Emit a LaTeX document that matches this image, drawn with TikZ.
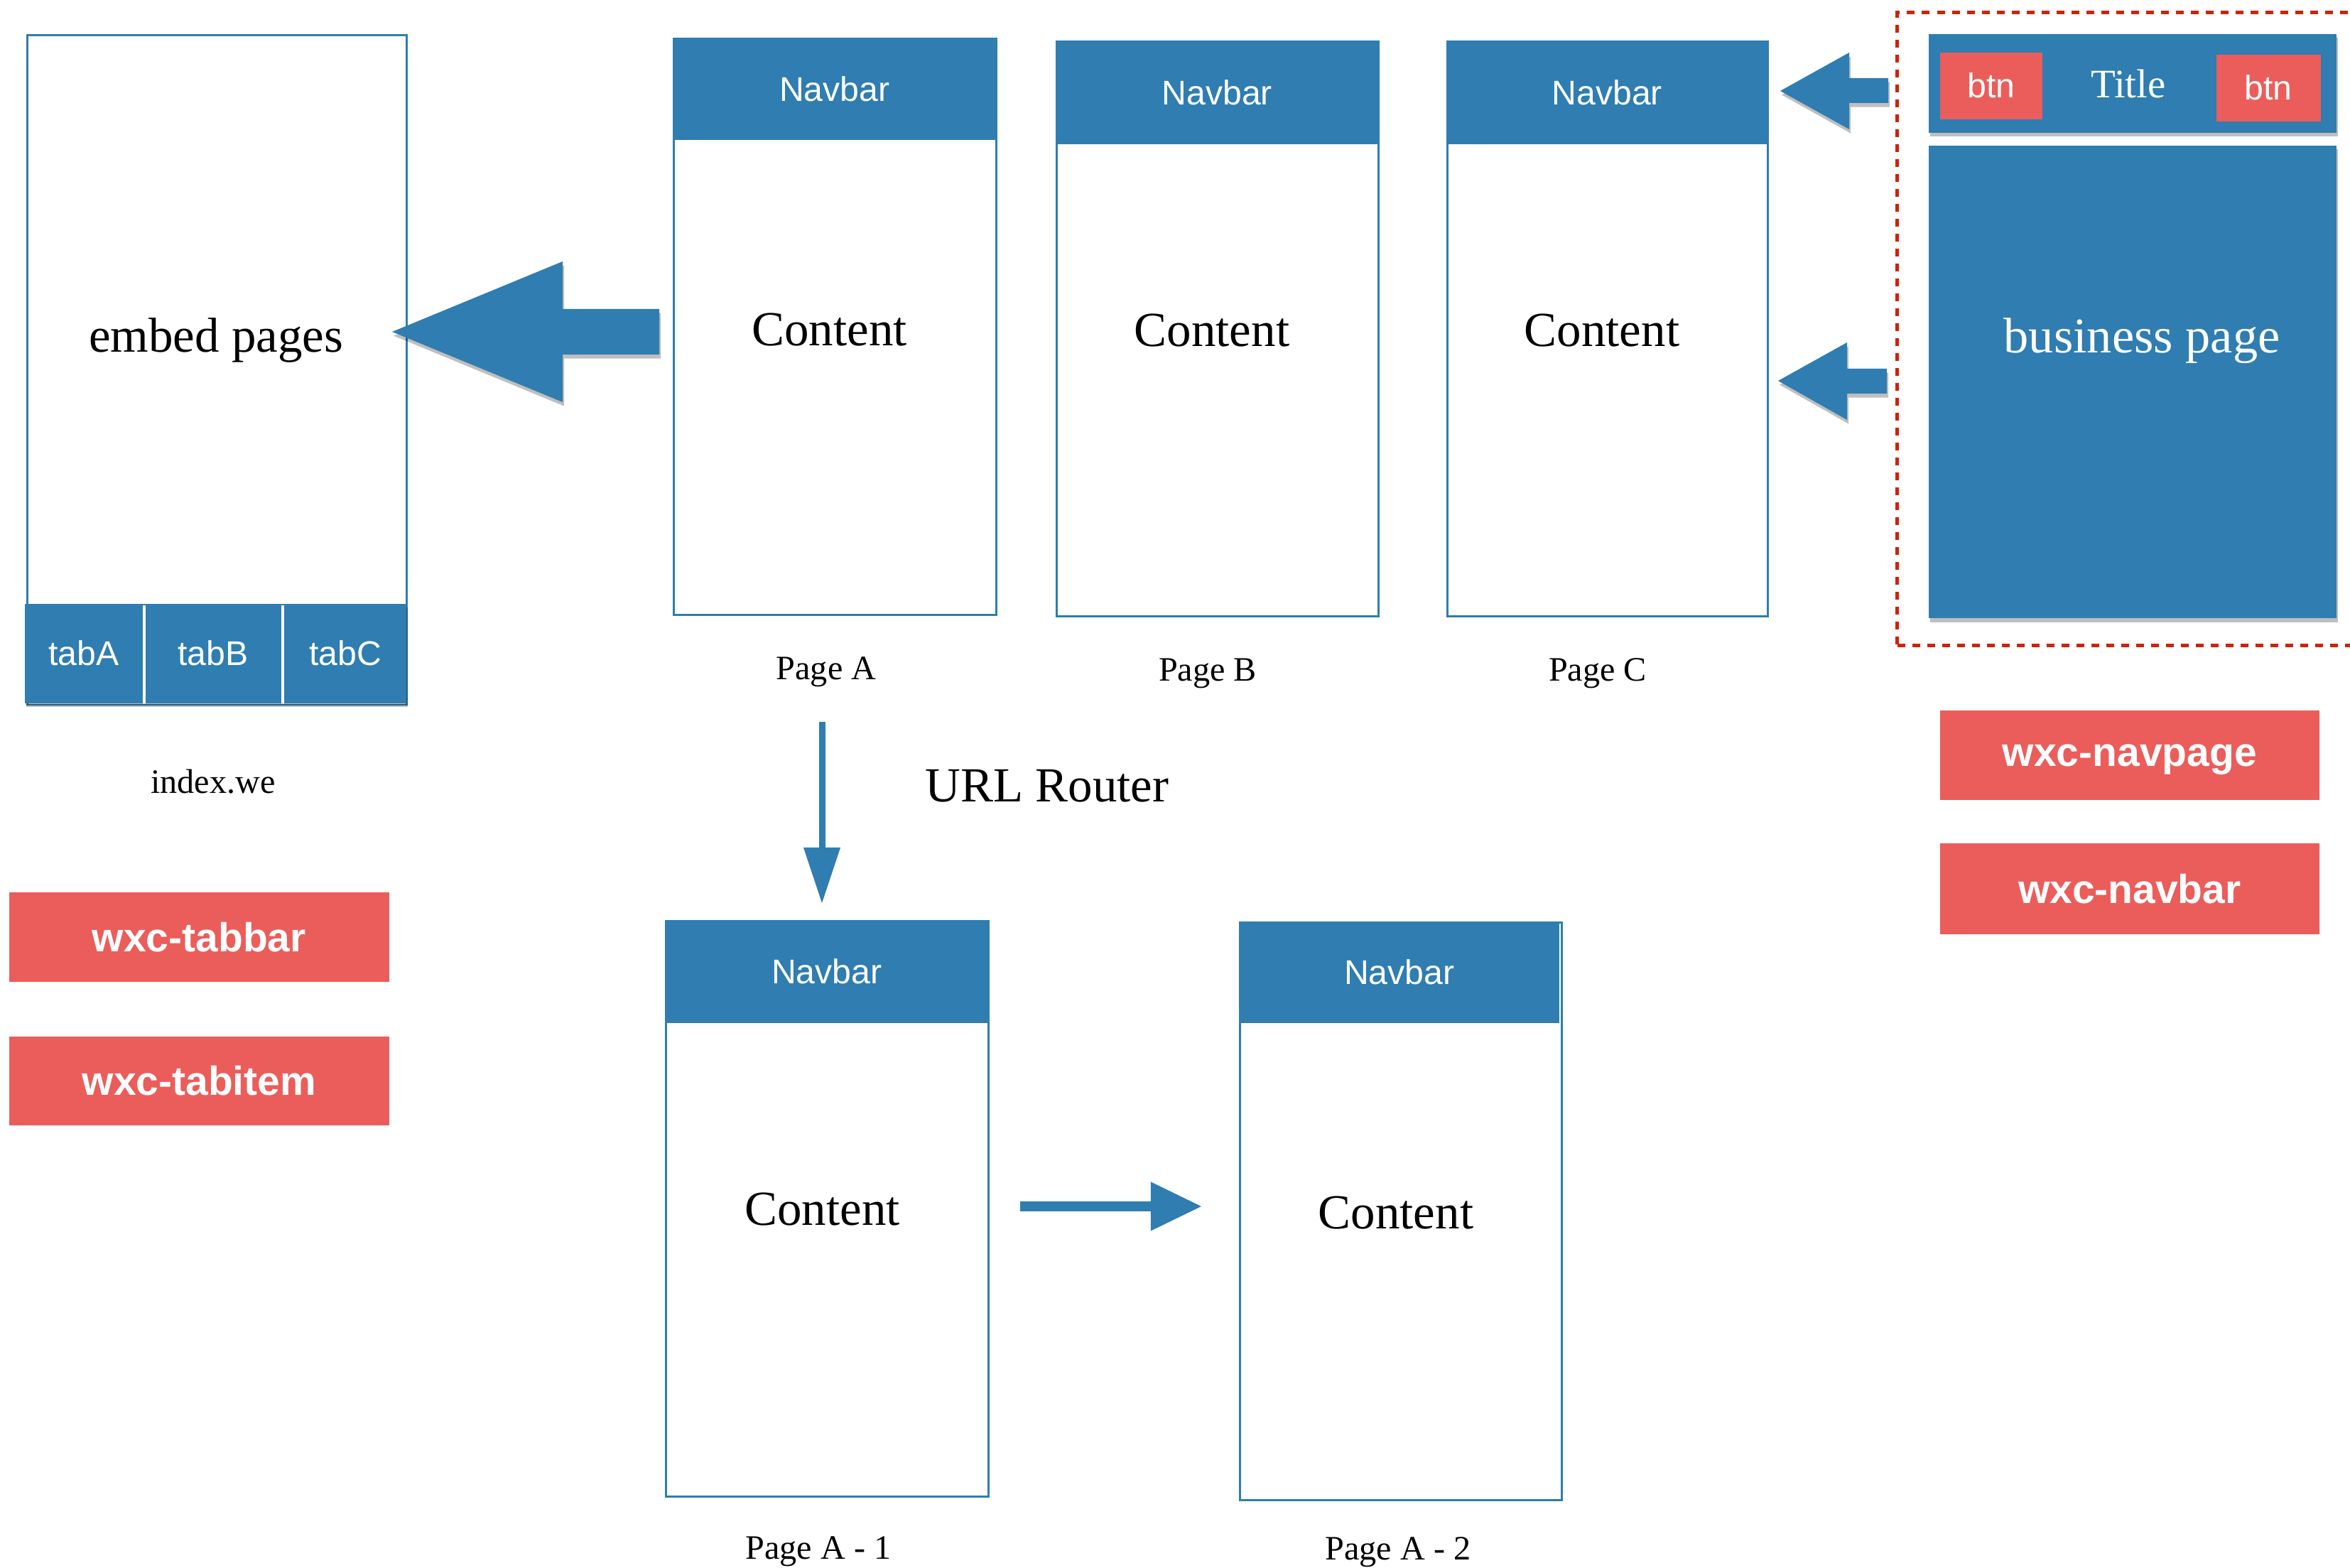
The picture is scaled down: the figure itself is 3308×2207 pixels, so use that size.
\documentclass[tikz,border=0pt]{standalone}
\usepackage{fontspec}
\setmainfont{Liberation Serif}
\newfontfamily\helv{Liberation Sans}
\usetikzlibrary{shadows,calc,arrows.meta}

\definecolor{bluec}{RGB}{47,125,177}
\definecolor{redc}{RGB}{235,93,90}
\definecolor{dashc}{RGB}{204,36,8}

\tikzset{
  softshadow/.style={drop shadow={shadow xshift=0.6pt,shadow yshift=-1.6pt,opacity=0.25,fill=black}},
  pagebox/.style={draw=bluec, line width=0.8pt, fill=white, inner sep=0pt, anchor=north west},
  bluefill/.style={fill=bluec, inner sep=0pt, anchor=north west},
  navtxt/.style={text=white, font=\helv\fontsize{13.7}{16}\selectfont},
  contenttxt/.style={text=black, text depth=0pt, font=\fontsize{19.6}{23}\selectfont},
  lbl/.style={text=black, text depth=0pt, font=\fontsize{13.7}{16}\selectfont},
  redbox/.style={fill=redc, inner sep=0pt, anchor=north west, text=white, text depth=0pt,
     font=\helv\bfseries\fontsize{16.2}{19}\selectfont},
  btnbox/.style={fill=redc, inner sep=0pt, anchor=north west, text=white,
     font=\helv\fontsize{13.7}{16}\selectfont},
  dashbox/.style={draw=dashc, line width=0.05cm, dash pattern=on 0.11cm off 0.10cm,
     inner sep=0pt, anchor=north west},
  fatarrow/.style={fill=bluec, softshadow},
  thinarrow/.style={draw=bluec},
}

\begin{document}
\begin{tikzpicture}[x=0.01cm,y=-0.01cm]
\useasboundingbox (0,0) rectangle (3308,2207);
\fill[white] (0,0) rectangle (3308,2207);
\clip (0,0) rectangle (3308,2207);

% ---------- index.we ----------
\node[pagebox, minimum width=5.34cm, minimum height=9.42cm] (idx) at (37,48) {};
\node[contenttxt] (idxt) at (304,472) {embed pages};
\node[bluefill, softshadow, minimum width=5.37cm, minimum height=1.40cm] (tabs) at (34,849) {};
\draw[white, line width=0.9pt] ($(tabs.north west)+(169,3)$) -- ($(tabs.south west)+(169,0)$)
                               ($(tabs.north west)+(364,3)$) -- ($(tabs.south west)+(364,0)$);
\node[navtxt] (tabA) at (118,919) {tabA};
\node[navtxt] (tabB) at (300,919) {tabB};
\node[navtxt] (tabC) at (486,919) {tabC};
\node[lbl] (idxl) at (300,1100) {index.we};

% ---------- red labels left ----------
\node[redbox, minimum width=5.35cm, minimum height=1.26cm] (rtabbar) at (12,1255) {wxc-tabbar};
\node[redbox, minimum width=5.35cm, minimum height=1.25cm] (rtabitem) at (12,1458) {wxc-tabitem};

% ---------- Page A ----------
\node[pagebox, minimum width=4.54cm, minimum height=8.11cm] (pA) at (947,53) {};
\node[bluefill, navtxt, minimum width=4.54cm, minimum height=1.43cm] (pAnav) at (947,53) {Navbar};
\node[contenttxt] (pAc) at ($(pA.north)+(-8,411)$) {Content};
\node[lbl] (pAl) at (1163,941) {Page A};

% ---------- Page B ----------
\node[pagebox, minimum width=4.53cm, minimum height=8.09cm] (pB) at (1486,57) {};
\node[bluefill, navtxt, minimum width=4.53cm, minimum height=1.45cm] (pBnav) at (1486,57) {Navbar};
\node[contenttxt] (pBc) at ($(pB.north)+(-8,408)$) {Content};
\node[lbl] (pBl) at (1700,943) {Page B};

% ---------- Page C ----------
\node[pagebox, minimum width=4.51cm, minimum height=8.09cm] (pC) at (2036,57) {};
\node[bluefill, navtxt, minimum width=4.51cm, minimum height=1.45cm] (pCnav) at (2036,57) {Navbar};
\node[contenttxt] (pCc) at ($(pC.north)+(-8,408)$) {Content};
\node[lbl] (pCl) at (2249,943) {Page C};

% ---------- Page A - 1 ----------
\node[pagebox, minimum width=4.54cm, minimum height=8.10cm] (pA1) at (936,1295) {};
\node[bluefill, navtxt, minimum width=4.54cm, minimum height=1.44cm] (pA1nav) at (936,1295) {Navbar};
\node[contenttxt] (pA1c) at ($(pA1.north)+(-7,407)$) {Content};
\node[lbl] (pA1l) at (1152,2179) {Page A - 1};

% ---------- Page A - 2 ----------
\node[pagebox, minimum width=4.53cm, minimum height=8.13cm] (pA2) at (1744,1297) {};
\node[bluefill, navtxt, minimum width=4.50cm, minimum height=1.42cm] (pA2nav) at (1744,1297) {Navbar};
\node[contenttxt] (pA2c) at ($(pA2.north)+(-7,410)$) {Content};
\node[lbl] (pA2l) at (1968,2180) {Page A - 2};

% ---------- URL Router ----------
\node[contenttxt] (url) at (1474,1106) {URL Router};

% ---------- business page (navpage) ----------
\node[dashbox, minimum width=6.70cm, minimum height=8.90cm] (navpage) at (2668,15) {};
\node[bluefill, softshadow, minimum width=5.74cm, minimum height=1.39cm] (bnav) at (2714,47) {};
\node[btnbox, minimum width=1.44cm, minimum height=0.94cm] (btnL) at (2730,73) {btn};
\node[btnbox, minimum width=1.47cm, minimum height=0.94cm] (btnR) at (3119,76) {btn};
\node[text=white, font=\fontsize{16.2}{19}\selectfont] (btitle) at (2996,118) {Title};
\node[bluefill, softshadow, minimum width=5.74cm, minimum height=6.65cm] (bpage) at (2714,204) {};
\node[text=white, text depth=0pt, font=\fontsize{20}{23}\selectfont] (bpaget) at (3015,472) {business page};

% ---------- red labels right ----------
\node[redbox, minimum width=5.34cm, minimum height=1.26cm] (rnavpage) at (2730,999) {wxc-navpage};
\node[redbox, minimum width=5.34cm, minimum height=1.28cm] (rnavbar) at (2730,1186) {wxc-navbar};

% ---------- fat arrows ----------
\coordinate (bigTip) at (552,467);
\fill[fatarrow] (bigTip) -- +(240,-99) -- +(240,-32) -- +(376,-32) -- +(376,32) -- +(240,32) -- +(240,99) -- cycle;

\coordinate (sTip1) at (2506,128);
\fill[fatarrow] (sTip1) -- +(97,-54) -- +(97,-18) -- +(152,-18) -- +(152,17) -- +(97,17) -- +(97,54) -- cycle;

\coordinate (sTip2) at (2503,536);
\fill[fatarrow] (sTip2) -- +(97,-54) -- +(97,-17) -- +(153,-17) -- +(153,18) -- +(97,18) -- +(97,55) -- cycle;

% ---------- thin arrows ----------
\coordinate (dS) at (1157,1016);
\coordinate (dE) at (1157,1271);
\draw[thinarrow, line width=0.09cm, -{Triangle[length=0.78cm 0 0, width=0.52cm 0 0, line width=0pt 0 0]}] (dS) -- (dE);

\coordinate (rS) at (1436,1698);
\coordinate (rE) at (1691,1698);
\draw[thinarrow, line width=0.13cm, -{Triangle[length=0.71cm 0 0, width=0.69cm 0 0, line width=0pt 0 0]}] (rS) -- (rE);

\end{tikzpicture}
\end{document}
